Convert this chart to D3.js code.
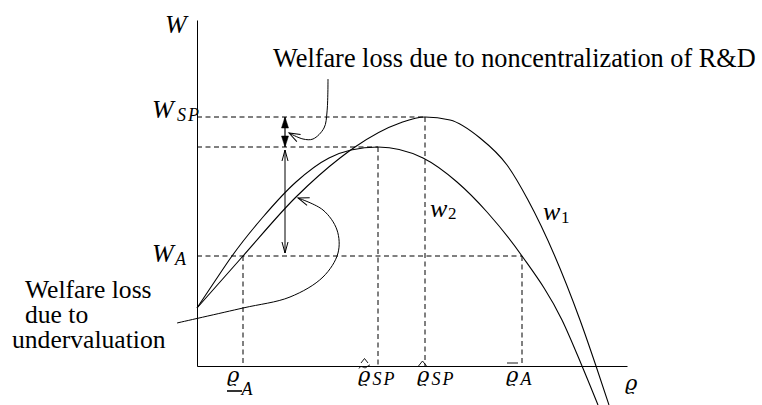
<!DOCTYPE html>
<html>
<head>
<meta charset="utf-8">
<script src="https://cdn.jsdelivr.net/npm/d3@7"></script>
<style>
body { margin: 0; background: #fff; }
svg { display: block; background: #fff; }
text { font-family: 'Liberation Serif', 'DejaVu Serif', serif; fill: #000; }
.math { font-style: italic; }
.rho { font-family: 'DejaVu Serif', serif; font-style: italic; }
</style>
</head>
<body>
<svg id="chart" width="762" height="405"></svg>
<script>
// welfare curves: (rho, W)
var w1Rho = [0, 4.6, 9.9, 14.3, 15.8, 20.3, 22.8, 25.3, 28.3, 31.0, 33.1, 38.3, 39.9, 41.2];
var w1Val = [5.8, 11.0, 16.9, 20.8, 21.9, 24.3, 24.9, 24.6, 22.8, 20.1, 16.6, 4.6, 0, -3.9];
var w2Rho = [0, 1.8, 3.5, 6.6, 9.9, 13.2, 15.4, 18.1, 22.6, 26.0, 29.0, 32.5, 36.5, 38.5, 40.1];
var w2Val = [5.8, 8.5, 11.0, 14.9, 18.4, 20.8, 21.6, 21.9, 20.8, 18.4, 15.4, 11.0, 4.6, 0, -3.9];

// horizontal reference levels (W_SP, peak of w2, W_A)
var levelW = [24.9, 21.9, 11.0];
var levelRhoEnd = [22.8, 18.1, 32.5];
var levelBase = ['W', '', 'W'];
var levelSub = ['SP', '', 'A'];

// vertical reference marks on the rho axis
var markRho = [4.6, 18.1, 22.8, 32.5];
var markW = [11.0, 21.9, 24.9, 11.0];
var markSub = ['A', 'SP', 'SP', 'A'];
var markAccent = ['under', 'tildehat', 'hat', 'bar'];

// annotation curves (rho, W)
var gapRho = 8.8;
var noteRdRho = [13.1, 13.0, 12.7, 11.6, 10.6, 9.2];
var noteRdW = [28.7, 25.4, 23.8, 22.7, 22.7, 23.3];
var noteUvRho = [-2.0, 4.6, 9.3, 12.6, 14.1, 14.0, 12.6, 10.1];
var noteUvW = [4.3, 5.8, 6.9, 8.9, 11.3, 13.6, 15.6, 16.8];

var svg = d3.select('#chart');

var x = d3.scaleLinear().domain([0, 43]).range([197, 627]);
var y = d3.scaleLinear().domain([0, 34.6]).range([366, 20]);

// arrow heads
var defs = svg.append('defs');
function marker(id, d, filled) {
    defs.append('marker')
        .attr('id', id)
        .attr('viewBox', '-14 -7 16 14')
        .attr('markerUnits', 'userSpaceOnUse')
        .attr('markerWidth', 16)
        .attr('markerHeight', 14)
        .attr('refX', 0)
        .attr('refY', 0)
        .attr('orient', 'auto-start-reverse')
        .append('path')
        .attr('d', d)
        .attr('fill', filled ? '#000' : 'none')
        .attr('stroke', '#000')
        .attr('stroke-width', filled ? 0.5 : 1);
}
marker('open', 'M-11,-4 L0,0 L-11,4', false);
marker('openSmall', 'M-11,-3 L0,0 L-11,3', false);
marker('solid', 'M-11,-3.5 L0,0 L-11,3.5 Z', true);

// axes without ticks
svg.append('g')
    .attr('transform', 'translate(0,' + y(0) + ')')
    .call(d3.axisBottom(x).tickValues([]).tickSizeOuter(0))
    .select('.domain').attr('stroke', '#000');
svg.append('g')
    .attr('transform', 'translate(' + x(0) + ',0)')
    .call(d3.axisLeft(y).tickValues([]).tickSizeOuter(0))
    .select('.domain').attr('stroke', '#000');

// dashed guides
var dash = '5,3.5';
svg.append('g').selectAll('line')
    .data(levelW)
    .join('line')
    .attr('x1', x(0))
    .attr('x2', function(d, i) { return x(levelRhoEnd[i]); })
    .attr('y1', function(d) { return y(d); })
    .attr('y2', function(d) { return y(d); })
    .attr('stroke', '#000')
    .attr('stroke-dasharray', dash);
svg.append('g').selectAll('line')
    .data(markRho)
    .join('line')
    .attr('x1', function(d) { return x(d); })
    .attr('x2', function(d) { return x(d); })
    .attr('y1', function(d, i) { return y(markW[i]); })
    .attr('y2', y(0))
    .attr('stroke', '#000')
    .attr('stroke-dasharray', dash);

// the two welfare curves
var curve = d3.line()
    .x(function(d) { return x(d[0]); })
    .y(function(d) { return y(d[1]); })
    .curve(d3.curveMonotoneX);
svg.append('path')
    .attr('d', curve(d3.zip(w1Rho, w1Val)))
    .attr('fill', 'none').attr('stroke', '#000').attr('stroke-width', 1.1);
svg.append('path')
    .attr('d', curve(d3.zip(w2Rho, w2Val)))
    .attr('fill', 'none').attr('stroke', '#000').attr('stroke-width', 1.1);

// gap arrows
svg.append('line')
    .attr('x1', x(gapRho)).attr('x2', x(gapRho))
    .attr('y1', y(levelW[0])).attr('y2', y(levelW[1]))
    .attr('stroke', '#000').attr('stroke-width', 1.2)
    .attr('marker-start', 'url(#solid)')
    .attr('marker-end', 'url(#solid)');
svg.append('line')
    .attr('x1', x(gapRho)).attr('x2', x(gapRho))
    .attr('y1', y(levelW[1]) + 3).attr('y2', y(levelW[2]) - 3)
    .attr('stroke', '#000')
    .attr('marker-start', 'url(#openSmall)')
    .attr('marker-end', 'url(#openSmall)');

// annotation pointers
var note = d3.line()
    .x(function(d) { return x(d[0]); })
    .y(function(d) { return y(d[1]); })
    .curve(d3.curveCatmullRom.alpha(0.5));
svg.append('path')
    .attr('d', note(d3.zip(noteRdRho, noteRdW)))
    .attr('fill', 'none').attr('stroke', '#000')
    .attr('marker-end', 'url(#open)');
svg.append('path')
    .attr('d', note(d3.zip(noteUvRho, noteUvW)))
    .attr('fill', 'none').attr('stroke', '#000')
    .attr('marker-end', 'url(#open)');

// W axis label
svg.append('text').attr('class', 'math')
    .attr('x', 165).attr('y', 33)
    .style('font-size', '26px').text('W');

// level labels
var levelDy = [1, 0, 6];
levelW.forEach(function(v, i) {
    if (!levelBase[i]) return;
    var by = y(v) + levelDy[i];
    svg.append('text').attr('class', 'math')
        .attr('x', 152).attr('y', by)
        .style('font-size', '26px').text(levelBase[i]);
    svg.append('text').attr('class', 'math')
        .attr('x', levelSub[i] === 'A' ? 175 : 177).attr('y', by + 3)
        .style('font-size', '18px').style('letter-spacing', '2px')
        .text(levelSub[i]);
});

// rho labels with their accents
var markDx = [-16, -20, -8, -16];
var markBase = [382, 382, 382, 382];
var markSubY = [395, 385, 385, 385];
markRho.forEach(function(v, i) {
    var sx = x(v) + markDx[i];
    svg.append('text').attr('class', 'rho')
        .attr('x', sx).attr('y', markBase[i])
        .style('font-size', '21px').text('ϱ');
    svg.append('text').attr('class', 'math')
        .attr('x', sx + 14.5).attr('y', markSubY[i])
        .style('font-size', '18px').style('letter-spacing', '2px')
        .text(markSub[i]);
    var acc = svg.append('g').attr('fill', 'none').attr('stroke', '#000').attr('stroke-width', 0.9);
    if (markAccent[i] === 'under') {
        acc.append('line').attr('x1', sx).attr('x2', sx + 15)
            .attr('y1', 391).attr('y2', 391).attr('stroke-width', 1.6);
    }
    if (markAccent[i] === 'bar') {
        acc.append('line').attr('x1', sx + 1).attr('x2', sx + 12)
            .attr('y1', 363).attr('y2', 363);
    }
    if (markAccent[i] === 'hat') {
        acc.append('path').attr('d', 'M' + (sx + 1.5) + ',366 L' + (sx + 5.5) + ',361 L' + (sx + 9.5) + ',366');
    }
    if (markAccent[i] === 'tildehat') {
        acc.append('path').attr('d', 'M' + (sx + 1) + ',368.5 C' + (sx + 3) + ',364 ' + (sx + 6) + ',369 ' + (sx + 8) + ',367.5 S' + (sx + 11) + ',365 ' + (sx + 12) + ',365');
        acc.append('path').attr('d', 'M' + (sx + 3) + ',363 L' + (sx + 6.5) + ',358.5 L' + (sx + 10) + ',363');
    }
});

// rho axis label
svg.append('text').attr('class', 'rho')
    .attr('x', 625).attr('y', 390)
    .style('font-size', '21px').text('ϱ');

// curve labels
svg.append('text').attr('class', 'math').attr('x', 430).attr('y', 217)
    .style('font-size', '26px').text('w');
svg.append('text').attr('x', 448).attr('y', 219)
    .style('font-size', '17px').text('2');
svg.append('text').attr('class', 'math').attr('x', 543).attr('y', 220)
    .style('font-size', '26px').text('w');
svg.append('text').attr('x', 561).attr('y', 223)
    .style('font-size', '17px').text('1');

// annotation texts
svg.append('text').attr('x', 273).attr('y', 67)
    .style('font-size', '26.3px')
    .text('Welfare loss due to noncentralization of R&D');
var leftLines = ['Welfare loss', 'due to', 'undervaluation'];
var leftX = [25, 25, 12];
leftLines.forEach(function(t, i) {
    svg.append('text').attr('x', leftX[i]).attr('y', 298 + i * 25)
        .style('font-size', '25.6px').text(t);
});
</script>
</body>
</html>
